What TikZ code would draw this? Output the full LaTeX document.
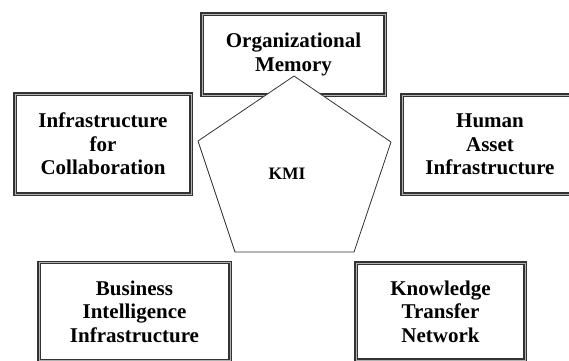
\documentclass[tikz,border=0pt]{standalone}
\usepackage{fontspec}
\setmainfont{Liberation Serif}
\usetikzlibrary{positioning}

\begin{document}
\begin{tikzpicture}[x=1pt,y=-1pt,
  kmbox/.style={draw=black!80, double=black!30, line width=1.2pt,
    double distance=1pt, fill=white, align=center, inner sep=0pt,
    font=\bfseries\fontsize{21}{23.5}\selectfont},
  kmline/.style={draw=black!80, line width=0.8pt, fill=white}
  ]
        \clip (0,0) rectangle (569,360);
        \node[kmbox, minimum width=183, minimum height=81]  (mem)    at (293.5,54.5) {Organizational\\Memory};
        \node[kmbox, minimum width=176, minimum height=100] (collab) at (103,144)   {Infrastructure\\for\\Collaboration};
        \node[kmbox, minimum width=176, minimum height=99]  (human)  at (490,144.5) {Human\\Asset\\Infrastructure};
        \node[kmbox, minimum width=191, minimum height=98]  (bi)     at (134.5,311.5) {Business\\Intelligence\\Infrastructure};
        \node[kmbox, minimum width=169, minimum height=97]  (ktn)    at (440.5,311.5) {Knowledge\\Transfer\\Network};
        \coordinate (p1) at (294,76);
        \coordinate (p2) at (391,142);
        \coordinate (p3) at (354,252);
        \coordinate (p4) at (235,252);
        \coordinate (p5) at (198,141);
        \draw[kmline] (p1) -- (p2) -- (p3) -- (p4) -- (p5) -- cycle;
        \node[font=\bfseries\fontsize{17.5}{20}\selectfont] (kmi) at (287,174) {KMI};
\end{tikzpicture}
\end{document}
